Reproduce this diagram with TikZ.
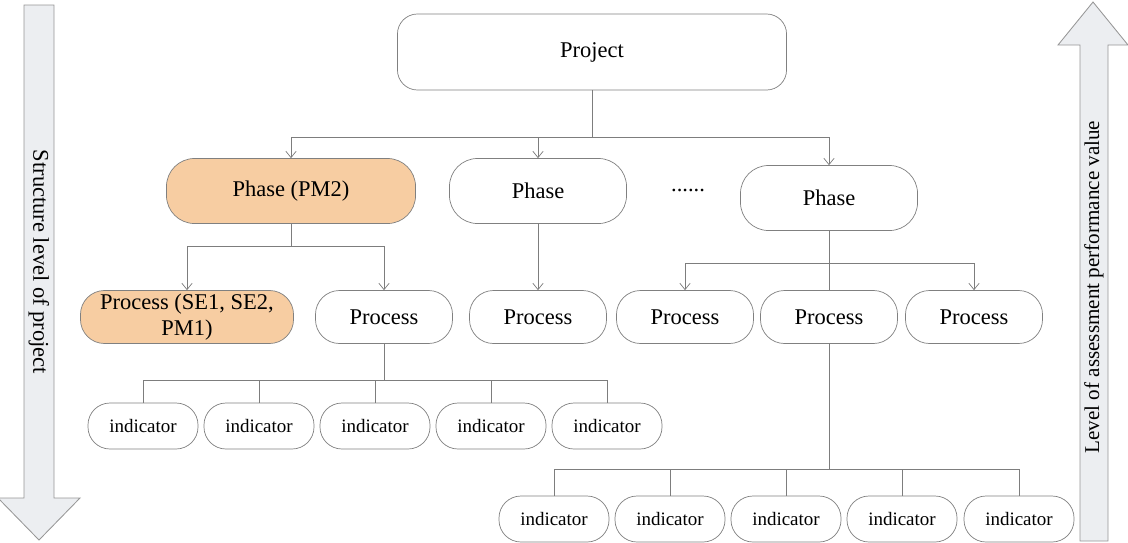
\documentclass[tikz,border=0pt]{standalone}
\usepackage{fontspec}
\setmainfont{Liberation Serif}
\usetikzlibrary{arrows.meta}
\definecolor{boxline}{RGB}{128,128,128}
\definecolor{linkgray}{RGB}{125,125,125}
\definecolor{peach}{RGB}{247,205,162}
\definecolor{arrowfill}{RGB}{236,238,241}
\definecolor{arrowline}{RGB}{150,150,150}

\begin{document}
\begin{tikzpicture}[x=0.025cm,y=-0.025cm,
          box/.style={draw=boxline,line width=0.5pt,fill=white,align=center,
                      inner sep=0pt,font=\fontsize{16}{18}\selectfont},
          projbox/.style={box,minimum width=9.725cm,minimum height=1.9cm,rounded corners=0.5cm},
          phasebox/.style={box,minimum width=4.425cm,minimum height=1.625cm,rounded corners=0.7cm},
          procbox/.style={box,minimum width=3.425cm,minimum height=1.325cm,rounded corners=0.6cm},
          indbox/.style={box,minimum width=2.75cm,minimum height=1.15cm,rounded corners=0.55cm,
                         font=\fontsize{13.5}{15}\selectfont},
          hot/.style={fill=peach},
          lnk/.style={draw=linkgray,line width=0.5pt},
          tip/.style={-{Straight Barb[length=1.6mm,width=2.6mm]}},
          bigarrow/.style={draw=arrowline,fill=arrowfill,line width=0.6pt},
          side/.style={font=\fontsize{16}{18}\selectfont}]
        \useasboundingbox (0,0) rectangle (1128,542);
        % side arrows
        \draw[bigarrow] (24,5) -- (54,5) -- (54,498) -- (80,498) -- (39,540)
                        -- (-2,498) -- (24,498) -- cycle;
        \draw[bigarrow] (1080,541) -- (1080,45) -- (1058,45) -- (1093,2)
                        -- (1128,45) -- (1108,45) -- (1108,541) -- cycle;
        \node[side,rotate=-90] (lstruct) at (39,262) {Structure level of project};
        \node[side,rotate=90,font=\fontsize{15}{17}\selectfont] (lvalue) at (1094,287)
             {Level of assessment performance value};
        % project and phases
        \node[projbox] (proj) at (592,52) {Project};
        \node[phasebox,hot,minimum width=6.225cm] (ph1) at (291,191) {Phase (PM2)};
        \node[phasebox] (ph2) at (538,191) {Phase};
        \node[phasebox] (ph3) at (829,198) {Phase};
        \node[side] (dots) at (688,190) {......};
        % processes
        \node[procbox,hot,minimum width=5.325cm] (pr1) at (187,317) {Process (SE1, SE2,\\PM1)};
        \node[procbox] (pr2) at (384,317) {Process};
        \node[procbox] (pr3) at (538,317) {Process};
        \node[procbox] (pr4) at (685,317) {Process};
        \node[procbox] (pr5) at (829,317) {Process};
        \node[procbox] (pr6) at (974,317) {Process};
        % indicators of pr2
        \node[indbox] (ia1) at (143,426) {indicator};
        \node[indbox] (ia2) at (259,426) {indicator};
        \node[indbox] (ia3) at (375,426) {indicator};
        \node[indbox] (ia4) at (491,426) {indicator};
        \node[indbox] (ia5) at (607,426) {indicator};
        % indicators of pr5
        \node[indbox] (ib1) at (554,519) {indicator};
        \node[indbox] (ib2) at (670,519) {indicator};
        \node[indbox] (ib3) at (786,519) {indicator};
        \node[indbox] (ib4) at (902,519) {indicator};
        \node[indbox] (ib5) at (1019,519) {indicator};
        % branch points
        \coordinate (bp) at (592,137);
        \coordinate (b1) at (291,246);
        \coordinate (b3) at (829,263);
        \coordinate (ba) at (384,380);
        \coordinate (bb) at (829,469);
        % links
        \draw[lnk] (proj.south) -- (bp);
        \draw[lnk,tip] (bp) -| (ph1.north);
        \draw[lnk,tip] (bp) -| (ph2.north);
        \draw[lnk,tip] (bp) -| (ph3.north);
        \draw[lnk] (ph1.south) -- (b1);
        \draw[lnk,tip] (b1) -| (pr1.north);
        \draw[lnk,tip] (b1) -| (pr2.north);
        \draw[lnk,tip] (ph2.south) -- (pr3.north);
        \draw[lnk] (ph3.south) -- (pr5.north);
        \draw[lnk,tip] (b3) -| (pr4.north);
        \draw[lnk,tip] (b3) -| (pr6.north);
        \draw[lnk] (pr2.south) -- (ba);
        \draw[lnk] (ba) -| (ia1.north);
        \draw[lnk] (ba) -| (ia2.north);
        \draw[lnk] (ba) -| (ia3.north);
        \draw[lnk] (ba) -| (ia4.north);
        \draw[lnk] (ba) -| (ia5.north);
        \draw[lnk] (pr5.south) -- (bb);
        \draw[lnk] (bb) -| (ib1.north);
        \draw[lnk] (bb) -| (ib2.north);
        \draw[lnk] (bb) -| (ib3.north);
        \draw[lnk] (bb) -| (ib4.north);
        \draw[lnk] (bb) -| (ib5.north);
      \end{tikzpicture}
\end{document}
